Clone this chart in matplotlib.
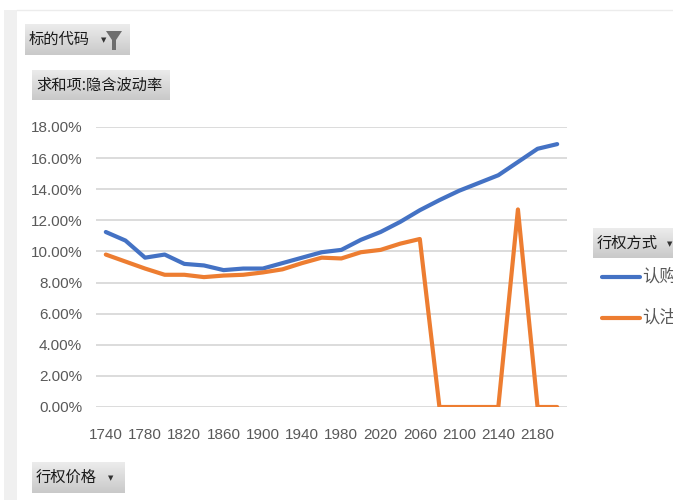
import numpy as np
import matplotlib.pyplot as plt
from matplotlib.patches import Rectangle

plt.rcParams['font.family'] = ['Noto Sans CJK SC', 'DejaVu Sans']

strikes = list(range(1740, 2201, 20))
call_iv = [11.25, 10.7, 9.6, 9.8, 9.2, 9.1, 8.8, 8.9, 8.9, 9.25, 9.6, 9.95,
           10.1, 10.75, 11.25, 11.9, 12.65, 13.3, 13.9, 14.4, 14.9, 15.75, 16.6, 16.9]
put_iv = [9.8, 9.35, 8.9, 8.5, 8.5, 8.35, 8.45, 8.5, 8.65, 8.85, 9.25, 9.6,
          9.55, 9.95, 10.1, 10.5, 10.8, 0, 0, 0, 0, 12.7, 0, 0]
series_names = ['认购', '认沽']
y_ticks = [0, 2, 4, 6, 8, 10, 12, 14, 16, 18]

W, H = 673, 500
fig = plt.figure(figsize=(W / 100, H / 100), dpi=100)


def px(x, y, w, h):
    # pixel box (top-left origin) -> figure fraction rect
    return [x / W, 1 - (y + h) / H, w / W, h / H]


# sheet background bits
fig.patches.append(Rectangle((4 / W, 0), 13 / W, 1 - 10 / H, transform=fig.transFigure,
                             facecolor='#f0f0f0', edgecolor='none'))
fig.add_artist(plt.Line2D([17 / W, 1], [1 - 10 / H, 1 - 10 / H], color='#ececec', lw=1))

grad = np.linspace(0, 1, 50).reshape(-1, 1)
gcmap = plt.cm.colors.LinearSegmentedColormap.from_list('g', ['#ececec', '#c9c9c9'])


def button(x, y, w, h, text, arrow=None, funnel=False):
    bax = fig.add_axes(px(x, y, w, h))
    bax.imshow(grad, aspect='auto', cmap=gcmap, extent=[0, 1, 0, 1], origin='upper')
    bax.set_xlim(0, 1)
    bax.set_ylim(0, 1)
    bax.axis('off')
    fig.text((x + 4) / W, 1 - (y + h / 2) / H, text, fontsize=11, color='#1a1a1a',
             va='center', ha='left')
    if arrow is not None:
        fig.text(arrow / W, 1 - (y + h / 2 + 1) / H, '▼', fontsize=5, color='#333333',
                 va='center', ha='center', family='DejaVu Sans')
    if funnel:
        fig.patches.append(plt.Polygon(
            [[(x + w - 24) / W, 1 - (y + 7) / H], [(x + w - 8) / W, 1 - (y + 7) / H],
             [(x + w - 14) / W, 1 - (y + 16) / H], [(x + w - 14) / W, 1 - (y + 26) / H],
             [(x + w - 18) / W, 1 - (y + 26) / H], [(x + w - 18) / W, 1 - (y + 16) / H]],
            closed=True, transform=fig.transFigure, facecolor='#6e6e6e', edgecolor='none'))


button(25, 24, 105, 31, '标的代码', arrow=104, funnel=True)
button(32, 70, 138, 30, '求和项:隐含波动率')
button(32, 462, 93, 31, '行权价格', arrow=111)
button(593, 228, 90, 30, '行权方式', arrow=670)

ax = fig.add_axes(px(96, 127, 471, 280))
xs = np.arange(len(strikes))
ax.plot(xs, np.array(call_iv) / 100, color='#4472C4', lw=3, solid_joinstyle='round',
        solid_capstyle='round')
ax.plot(xs, np.array(put_iv) / 100, color='#ED7D31', lw=3, solid_joinstyle='round',
        solid_capstyle='round')
ax.set_xlim(-0.5, len(strikes) - 0.5)
ax.set_ylim(0, 0.18)
ax.set_yticks([t / 100 for t in y_ticks])
ax.set_yticklabels(['%.2f%%' % t for t in y_ticks])
ax.set_xticks(xs[::2])
ax.set_xticklabels([str(s) for s in strikes[::2]])
ax.tick_params(length=0, labelsize=11, labelcolor='#595959')
ax.tick_params(axis='y', pad=10)
ax.tick_params(axis='x', pad=15)
for lab in ax.get_xticklabels() + ax.get_yticklabels():
    lab.set_family(['Liberation Sans', 'DejaVu Sans'])
ax.grid(axis='y', color='#d9d9d9', lw=1.3)
ax.set_axisbelow(True)
for s in ax.spines.values():
    s.set_visible(False)

# legend (clipped by figure edge like the screenshot)
for name, col, yy in zip(series_names, ['#4472C4', '#ED7D31'], [277, 318]):
    fig.add_artist(plt.Line2D([602 / W, 640 / W], [1 - yy / H, 1 - yy / H], color=col,
                              lw=3, solid_capstyle='round'))
    fig.text(642 / W, 1 - yy / H, name, fontsize=12.5, color='#595959', va='center', ha='left')

fig.savefig('out.png', dpi=100)
